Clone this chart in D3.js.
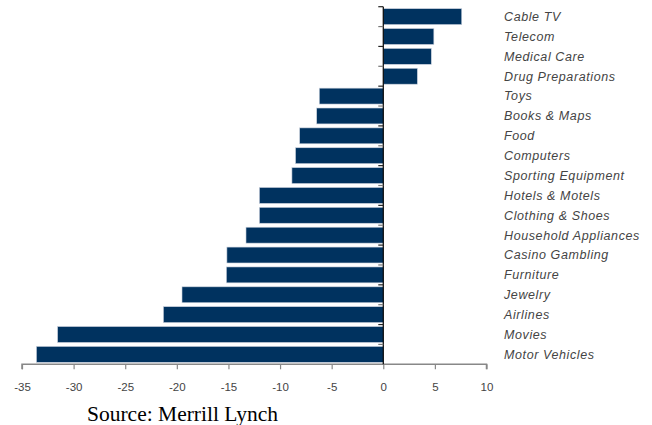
<!DOCTYPE html>
<html>
<head>
<meta charset="utf-8">
<script src="https://cdn.jsdelivr.net/npm/d3@7/dist/d3.min.js"></script>
<style>
html,body{margin:0;padding:0;background:#fff;}
svg{display:block;}
</style>
</head>
<body>
<svg id="chart" width="652" height="425"></svg>
<script>
const categories = ["Cable TV","Telecom","Medical Care","Drug Preparations","Toys","Books & Maps","Food","Computers","Sporting Equipment","Hotels & Motels","Clothing & Shoes","Household Appliances","Casino Gambling","Furniture","Jewelry","Airlines","Movies","Motor Vehicles"];
const values = [7.6, 4.9, 4.65, 3.3, -6.2, -6.45, -8.1, -8.5, -8.85, -12.0, -12.0, -13.3, -15.15, -15.2, -19.5, -21.3, -31.55, -33.6];
const xTicks = [-35,-30,-25,-20,-15,-10,-5,0,5,10];
const sourceText = "Source: Merrill Lynch";

const svg = d3.select("#chart");
const x = d3.scaleLinear().domain([-35, 10]).range([22, 486.5]);
const y = d3.scaleBand().domain(categories).range([6.7, 364.3]).paddingInner(0.2).paddingOuter(0.1);
const yB = d3.scaleBand().domain(categories).range([6.7, 364.3]);

// bars
svg.append("g").selectAll("rect").data(categories).join("rect")
  .attr("x", (d,i) => x(Math.min(0, values[i])))
  .attr("width", (d,i) => Math.abs(x(values[i]) - x(0)))
  .attr("y", d => y(d))
  .attr("height", y.bandwidth())
  .attr("fill", "#00325f")
  .attr("stroke", "#c8d0dc")
  .attr("stroke-width", 0.6);

// x axis
const xAxis = svg.append("g").attr("transform", "translate(0,364.3)")
  .call(d3.axisBottom(x).tickValues(xTicks).tickSize(5).tickPadding(14).tickFormat(d => String(d)));
xAxis.select(".domain").attr("stroke", "#888").attr("stroke-width", 1.5).attr("d", `M${x(-35)},5V0H${x(10)}V5`);
xAxis.selectAll(".tick line").attr("stroke", "#888").attr("stroke-width", 1.2);
xAxis.selectAll(".tick text").attr("fill", "#444").style("font-family", "Liberation Sans, Arial, sans-serif").style("font-size", "11.5px");

// y axis at zero with ticks at band boundaries
const yg = svg.append("g");
yg.append("line").attr("x1", x(0)).attr("x2", x(0)).attr("y1", yB.range()[0]).attr("y2", 364.3)
  .attr("stroke", "#000").attr("stroke-width", 1.2);
const bounds = categories.map(d => yB(d));
yg.selectAll("line.t").data(bounds).join("line").attr("class","t")
  .attr("x1", x(0) - 5).attr("x2", x(0))
  .attr("y1", d => d).attr("y2", d => d)
  .attr("stroke", (d,i) => i % 2 ? "#777" : "#222").attr("stroke-width", 1.2);

// category labels
svg.append("g").selectAll("text").data(categories).join("text")
  .attr("x", 504)
  .attr("y", d => yB(d) + yB.bandwidth()/2)
  .attr("dy", "0.35em")
  .attr("fill", "#444")
  .style("font-family", "Liberation Sans, Arial, sans-serif")
  .style("font-style", "italic")
  .style("font-size", "12.5px")
  .style("letter-spacing", "0.6px")
  .text(d => d);

// source
svg.append("text").attr("x", 87).attr("y", 421)
  .style("font-family", "Liberation Serif, Times New Roman, serif")
  .style("font-size", "21.5px")
  .attr("fill", "#000")
  .text(sourceText);
</script>
</body>
</html>
